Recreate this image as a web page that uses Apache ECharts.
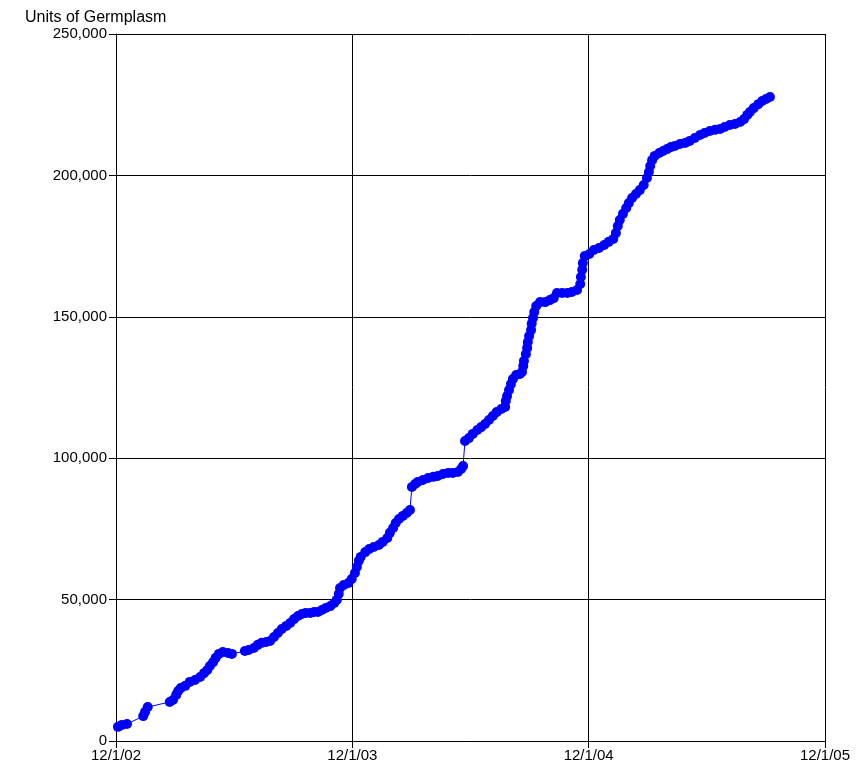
<!DOCTYPE html>
<html>
<head>
<meta charset="utf-8">
<script src="https://cdn.jsdelivr.net/npm/echarts@6/dist/echarts.min.js"></script>
<style>
  html, body { margin: 0; padding: 0; background: #fff; }
  #panel { width: 863px; height: 777px; }
</style>
</head>
<body>
<div id="panel"></div>
<script>
// days since 12/1/02
var days = [3, 9, 17, 42, 45, 49, 83, 88, 93, 96, 100, 107, 114, 122, 130, 136, 141, 145, 150, 154,
  159, 165, 173, 179, 199, 205, 213, 219, 225, 232, 238, 244, 250, 256, 263, 269, 275, 281, 287, 293,
  300, 306, 312, 318, 324, 331, 337, 341, 344, 346, 352, 359, 364, 369, 372, 375, 378, 385, 391, 398,
  406, 412, 419, 423, 428, 432, 437, 443, 449, 454, 457, 462, 466, 474, 482, 490, 497, 505, 513, 520,
  528, 533, 536, 539, 545, 551, 558, 564, 570, 576, 582, 588, 595, 601, 602, 604, 607, 610, 613, 618,
  624, 627, 629, 630, 633, 635, 636, 638, 641, 642, 644, 646, 649, 655, 663, 670, 676, 681, 689, 697,
  704, 712, 717, 718, 720, 721, 724, 731, 738, 746, 754, 761, 768, 772, 775, 778, 783, 788, 792, 797,
  803, 809, 815, 820, 823, 825, 828, 832, 839, 845, 851, 857, 863, 871, 879, 886, 894, 902, 909, 917,
  925, 933, 940, 948, 956, 964, 970, 975, 979, 985, 992, 998, 1004, 1010];
// cumulative units of germplasm
var units = [5000, 5700, 6000, 8800, 10300, 12000, 13800, 14500, 16300, 17700, 18700, 19500, 20900, 21600, 22600, 24000, 25100, 26500, 27900, 29400,
  30800, 31500, 31100, 30800, 31800, 32200, 32900, 34000, 34700, 35000, 35400, 36800, 38200, 39600, 40700, 41700, 43100, 44200, 44900, 45300,
  45300, 45600, 45600, 46300, 47000, 47700, 48800, 49900, 52000, 54100, 55200, 55900, 57300, 59400, 61500, 63700, 65100, 66800, 67900, 68600,
  69300, 70400, 71800, 73600, 75300, 77100, 78500, 79600, 80600, 81700, 89800, 90900, 91600, 92300, 93000, 93400, 93700, 94400, 94800, 94800,
  95100, 96200, 97200, 106100, 107100, 108600, 110000, 111000, 112100, 113500, 114900, 116300, 117400, 118100, 120200, 122000, 124100, 126200, 128000, 129400,
  129800, 130500, 132600, 134400, 136800, 139000, 141100, 143200, 145300, 147500, 149600, 151700, 153800, 155200, 155200, 155900, 156600, 158400, 158400, 158400,
  158800, 159500, 161600, 164100, 166600, 169000, 171500, 172200, 173600, 174300, 175400, 176500, 177500, 179600, 182100, 184200, 186400, 188500, 190200, 192000,
  193400, 194800, 196600, 199100, 201200, 203300, 205400, 206900, 207900, 208600, 209300, 210000, 210400, 211100, 211500, 212200, 213200, 214300, 215000, 215700,
  216100, 216400, 217100, 217800, 218200, 218900, 219900, 221400, 222400, 223800, 225200, 226300, 227000, 227700];
var xLabels = ['12/1/02', '12/1/03', '12/1/04', '12/1/05'];

var points = days.map(function (d, i) { return [d, units[i]]; });

chartDom = document.getElementById('panel');
myChart = echarts.init(chartDom);

var font = 'Arial, "Liberation Sans", sans-serif';

myChart.setOption({
    animation: false,
    title: {
        text: 'Units of Germplasm',
        left: 20, top: 5,
        textStyle: { fontFamily: font, fontSize: 16, fontWeight: 'normal', color: '#000' }
    },
    grid: { left: 116, right: 38, top: 34, bottom: 36, containLabel: false },
    xAxis: {
        type: 'value', min: 0, max: 1095, interval: 365,
        axisLine: { lineStyle: { color: '#000', width: 1 } },
        axisTick: { show: true, length: 7, lineStyle: { color: '#000' } },
        splitLine: { show: true, lineStyle: { color: '#000', width: 1 } },
        axisLabel: {
            fontFamily: font, fontSize: 15, color: '#000', margin: 7,
            formatter: function (v) { return xLabels[Math.round(v / 365)]; }
        }
    },
    yAxis: {
        type: 'value', min: 0, max: 250000, interval: 50000,
        axisLine: { show: true, lineStyle: { color: '#000', width: 1 } },
        axisTick: { show: true, length: 7, lineStyle: { color: '#000' } },
        splitLine: { show: true, lineStyle: { color: '#000', width: 1 } },
        axisLabel: {
            fontFamily: font, fontSize: 15, color: '#000', margin: 9,
            formatter: function (v) { return v.toLocaleString('en-US'); }
        }
    },
    series: [{
        type: 'line',
        data: points,
        color: '#0000ff',
        lineStyle: { color: '#0000ff', width: 1 },
        symbol: 'circle',
        symbolSize: 10,
        itemStyle: { color: '#0000ff' }
    }]
});
</script>
</body>
</html>
